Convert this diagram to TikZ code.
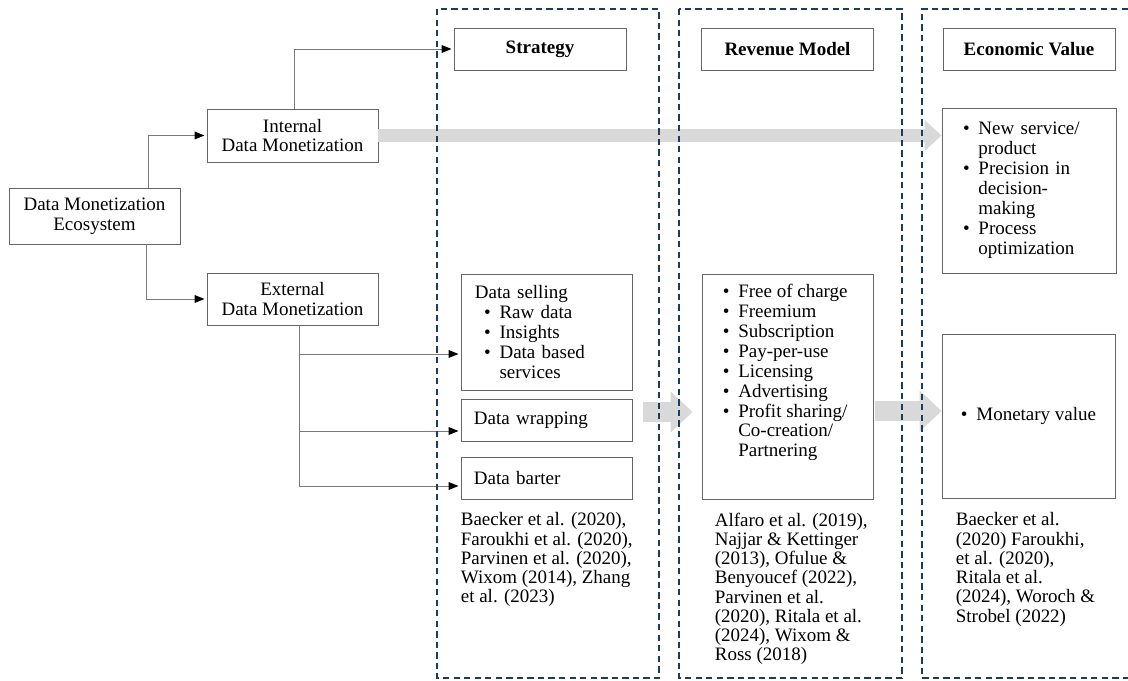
\documentclass[tikz,border=0pt]{standalone}
\usepackage{fontspec}
\setmainfont{Liberation Serif}
\usepackage{tikz}
\usetikzlibrary{arrows.meta,calc,positioning}
\definecolor{dmgray}{HTML}{666666}
\definecolor{dmline}{HTML}{7A7A7A}
\definecolor{dmnavy}{HTML}{1F3B5C}
\definecolor{dmlight}{HTML}{D9D9D9}
\newcommand{\litem}{\makebox[11pt][l]{\textbullet}}
\newcommand{\lcont}{\hspace*{11pt}}
\begin{document}
\begin{tikzpicture}[x=0.025cm, y=-0.025cm,
  every node/.style={font=\fontsize{13.5}{14.2}\selectfont},
  box/.style={draw=dmgray, line width=0.6pt, minimum width=4.275cm,
              align=center, inner sep=0pt},
  header/.style={box, minimum width=4.3cm, minimum height=1.05cm,
                 font=\fontsize{13.5}{14.2}\selectfont\bfseries},
  listbox/.style={box, align=left},
  cite/.style={anchor=north west, inner sep=0pt, align=left,
               font=\fontsize{13.5}{13.7}\selectfont},
  conn/.style={draw=dmline, line width=0.7pt, shorten >=1.5pt,
               -{Triangle[length=7pt,width=5.5pt,color=black]}},
  bigarrow/.style={draw=dmlight, line width=0.5cm,
                   -{Triangle[length=0.55cm,width=1cm]}},
  column/.style={draw=dmnavy, line width=1pt, dash pattern=on 4.5pt off 3pt},
]
  \useasboundingbox (0,0) rectangle (1128,681);

  % Ecosystem and its two branches.
  \node[box, minimum height=1.4cm] (eco) at (94.5,216) {Data Monetization\\Ecosystem};
  \node[box, minimum height=1.325cm] (int) at (292.5,135.5) {Internal\\Data Monetization};
  \node[box, minimum height=1.3cm] (ext) at (292.5,299) {External\\Data Monetization};

  % Column headers.
  \node[header] (strat) at (540,49) {Strategy};
  \node[header] (revhead) at (787.5,49) {Revenue Model};
  \node[header] (ecohead) at (1029,49) {Economic Value};

  % Strategy column.
  \node[listbox, minimum height=2.9cm, text width=3.575cm, inner xsep=0.35cm] (sell) at (546.5,332)
    {Data selling\\\hspace*{6.5pt}\litem Raw data\\\hspace*{6.5pt}\litem Insights\\
     \hspace*{6.5pt}\litem Data based\\\hspace*{6.5pt}\lcont services};
  \node[listbox, minimum height=1.05cm, text width=3.625cm, inner xsep=0.325cm] (wrap) at (546.5,420) {Data wrapping};
  \node[listbox, minimum height=1.05cm, text width=3.625cm, inner xsep=0.325cm] (barter) at (546.5,478) {Data barter};
  \node[cite] (citestrat) at ($(barter.south west)+(0,13)$)
    {Baecker et al. (2020),\\Faroukhi et al. (2020),\\Parvinen et al. (2020),\\Wixom (2014), Zhang\\et al. (2023)};

  % Revenue model column.
  \node[box, minimum height=5.625cm] (revlist) at (787.5,386.5) {};
  \node[cite, font=\fontsize{13.5}{14.2}\selectfont] (revtext) at ($(revlist.north west)+(21,10)$)
    {\litem Free of charge\\\litem Freemium\\\litem Subscription\\\litem Pay-per-use\\
     \litem Licensing\\\litem Advertising\\\litem Profit sharing/\\\lcont Co-creation/\\\lcont Partnering};
  \node[cite] (citerev) at ($(revlist.south west)+(13,13)$)
    {Alfaro et al. (2019),\\Najjar \& Kettinger\\(2013), Ofulue \&\\Benyoucef (2022),\\Parvinen et al.\\(2020), Ritala et al.\\(2024), Wixom \&\\Ross (2018)};

  % Economic value column.
  \node[listbox, minimum height=4.125cm, text width=3.3cm, inner xsep=0.525cm] (econup) at (1029,190.5)
    {\litem New service/\\\lcont product\\\litem Precision in\\\lcont decision-\\\lcont making\\
     \litem Process\\\lcont optimization};
  \node[box, minimum width=4.325cm, minimum height=4.1cm] (mon) at (1028.5,416) {\litem Monetary value};
  \node[cite] (citeeco) at ($(mon.south west)+(14,14)$)
    {Baecker et al.\\(2020) Faroukhi,\\et al. (2020),\\Ritala et al.\\(2024), Woroch \&\\Strobel (2022)};

  % Connectors.
  \draw[conn] ($(eco.north)+(53.5,0)$) |- (int.west);
  \draw[conn] ($(eco.south)+(51.5,0)$) |- (ext.west);
  \draw[conn] ($(int.north)+(1.5,0)$) |- (strat.west);
  \coordinate (trunk) at ($(ext.south)+(6.5,0)$);
  \draw[conn] (trunk) |- ($(sell.west)+(0,22)$);
  \draw[conn] (trunk) |- ($(wrap.west)+(0,11)$);
  \draw[conn] (trunk) |- ($(barter.west)+(0,8)$);

  % Gray flow arrows.
  \draw[bigarrow, line width=0.325cm, -{Triangle[length=0.425cm,width=0.75cm]}]
    (int.east) -- (int.east -| econup.west);
  \draw[bigarrow] ($(wrap.east |- mon.west)+(11,-4)$) -- ($(revlist.west |- mon.west)+(-9,-4)$);
  \draw[bigarrow] ($(revlist.east |- mon.west)+(2,-5)$) -- ($(mon.west)+(0,-5)$);

  % Dashed columns.
  \draw[column] (437,9) rectangle (659,678);
  \draw[column] (679,9) rectangle (902,678);
  \draw[column] (1128,9) -- (922,9) -- (922,678) -- (1128,678);

\end{tikzpicture}
\end{document}
